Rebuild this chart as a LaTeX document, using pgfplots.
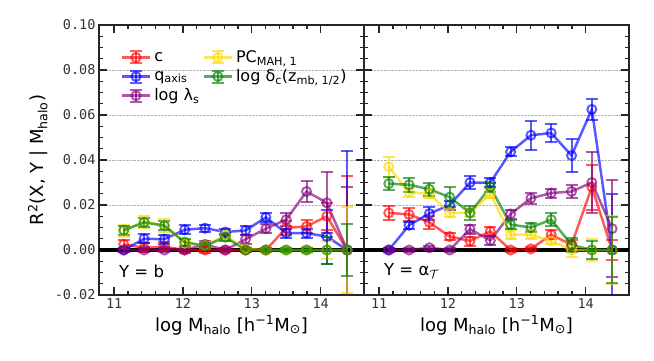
\documentclass[border=0pt]{standalone}
\usepackage{pgfplots}
\pgfplotsset{compat=1.18}
\usepackage{fontspec}
\setmainfont{DejaVu Sans}
\setmonofont{DejaVu Sans Mono}

\definecolor{cpurple}{RGB}{128,0,128}
\definecolor{cgold}{RGB}{255,215,0}
\definecolor{cgreen}{RGB}{0,128,0}

\pgfplotsset{
  panel/.style={
    scale only axis, width=265pt, height=270pt,
    xmin=10.78, xmax=14.63, ymin=-0.02, ymax=0.10,
    xtick={11,12,13,14}, minor x tick num=4,
    ytick={-0.02,0,0.02,0.04,0.06,0.08,0.10}, minor y tick num=3,
    xtick pos=both, ytick pos=both, tick align=inside,
    major tick length=8pt, minor tick length=4pt,
    every tick/.style={black!85, line width=1.3pt},
    axis line style={black!85, line width=1.3pt},
    ymajorgrids, major grid style={densely dotted, gray!60, line width=0.7pt},
    /pgf/number format/assume math mode=true,
    yticklabel style={/pgf/number format/.cd, fixed, fixed zerofill, precision=2},
    tick label style={font=\ttfamily\fontsize{13.5}{16}\selectfont, black!80},
    label style={font=\fontsize{18}{21}\selectfont},
    xlabel={log M\textsubscript{halo} [h\textsuperscript{−1}M\textsubscript{⊙}]},
    clip=true,
  },
  ser/.style={color=#1, opacity=0.65, line width=2.5pt, mark=o, mark size=4.5pt,
    mark options={solid, line width=2pt, opacity=0.65}, forget plot,
    error bars/y dir=both, error bars/y explicit,
    error bars/error bar style={line width=2pt, solid, opacity=0.65},
    error bars/error mark options={rotate=90, mark size=6pt, line width=2pt, color=#1, opacity=0.65}},
  zeroline/.style={black, line width=4pt, forget plot},
}

\begin{document}
\begin{tikzpicture}
\useasboundingbox (0pt,0pt) rectangle (654pt,360pt);

% left panel: Y = b
\begin{axis}[panel, at={(99pt,65pt)}, anchor=south west,
  ylabel={R\textsuperscript{2}(X, Y | M\textsubscript{halo})},
  legend columns=2, legend cell align=left,
  legend style={draw=none, fill=none, at={(0.07,0.92)}, anchor=north west,
    font=\fontsize{16}{19}\selectfont, column sep=1pt, row sep=1.5pt},
  legend image code/.code={
    \draw[#1] (0pt,0pt) -- (28pt,0pt);
    \draw[#1, line width=2pt] (14pt,-6pt) -- (14pt,6pt) (8pt,6pt) -- (20pt,6pt) (8pt,-6pt) -- (20pt,-6pt);
    \draw[#1, line width=2pt] (14pt,0pt) circle (4.5pt);
  },
]
\addplot[zeroline] coordinates {(10.78,0) (14.63,0)};
% c
\addplot[ser=red] coordinates {
 (11.14,0.0025) +- (0,0.002) (11.435,0.001) +- (0,0.002) (11.73,0.0015) +- (0,0.002)
 (12.025,0) +- (0,0.0015) (12.32,0) +- (0,0.0015) (12.615,0) +- (0,0.001)
 (12.91,0) +- (0,0.001) (13.205,0) +- (0,0.001) (13.5,0.0098) +- (0,0.003)
 (13.795,0.0105) +- (0,0.003) (14.09,0.015) +- (0,0.006) (14.385,0) +- (0,0.033)};
% q_axis
\addplot[ser=blue] coordinates {
 (11.14,0) +- (0,0.001) (11.435,0.0050) +- (0,0.002) (11.73,0.0048) +- (0,0.002)
 (12.025,0.009) +- (0,0.002) (12.32,0.0097) +- (0,0.0015) (12.615,0.008) +- (0,0.0015)
 (12.91,0.0087) +- (0,0.002) (13.205,0.0145) +- (0,0.002) (13.5,0.0075) +- (0,0.002)
 (13.795,0.0075) +- (0,0.002) (14.09,0.006) +- (0,0.012) (14.385,0) +- (0,0.044)};
% log lambda_s
\addplot[ser=cpurple] coordinates {
 (11.14,0) +- (0,0.001) (11.435,0) +- (0,0.001) (11.73,0) +- (0,0.001)
 (12.025,0) +- (0,0.001) (12.32,0.0025) +- (0,0.0015) (12.615,0) +- (0,0.001)
 (12.91,0.0048) +- (0,0.002) (13.205,0.0095) +- (0,0.002) (13.5,0.0135) +- (0,0.003)
 (13.795,0.026) +- (0,0.0045) (14.09,0.021) +- (0,0.0135) (14.385,0) +- (0,0.028)};
% PC_MAH,1
\addplot[ser=cgold] coordinates {
 (11.14,0.0085) +- (0,0.0025) (11.435,0.0125) +- (0,0.0025) (11.73,0.011) +- (0,0.003)
 (12.025,0.003) +- (0,0.0015) (12.32,0.002) +- (0,0.0015) (12.615,0.0065) +- (0,0.002)
 (12.91,0.0005) +- (0,0.001) (13.205,0) +- (0,0.001) (13.5,0) +- (0,0.001)
 (13.795,0) +- (0,0.0015) (14.09,0) +- (0,0.004) (14.385,0) +- (0,0.019)};
% log delta_c
\addplot[ser=cgreen] coordinates {
 (11.14,0.0088) +- (0,0.002) (11.435,0.0123) +- (0,0.002) (11.73,0.0108) +- (0,0.002)
 (12.025,0.0035) +- (0,0.0015) (12.32,0.0018) +- (0,0.0015) (12.615,0.0057) +- (0,0.0015)
 (12.91,0) +- (0,0.001) (13.205,0) +- (0,0.001) (13.5,0) +- (0,0.001)
 (13.795,0) +- (0,0.001) (14.09,0) +- (0,0.006) (14.385,0) +- (0,0.0117)};

\addlegendimage{red, opacity=0.65, line width=2.5pt}
\addlegendentry{c}
\addlegendimage{cgold, opacity=0.65, line width=2.5pt}
\addlegendentry{PC\textsubscript{MAH, 1}}
\addlegendimage{blue, opacity=0.65, line width=2.5pt}
\addlegendentry{q\textsubscript{axis}}
\addlegendimage{cgreen, opacity=0.65, line width=2.5pt}
\addlegendentry{log δ\textsubscript{c}(z\textsubscript{mb, 1/2})}
\addlegendimage{cpurple, opacity=0.65, line width=2.5pt}
\addlegendentry{log λ\textsubscript{s}}

\node[anchor=west, inner sep=0pt, font=\fontsize{16.5}{19}\selectfont] at (axis cs:11.07,-0.0094) {Y = b};
\end{axis}

% right panel: Y = alpha_T
\begin{axis}[panel, at={(364pt,65pt)}, anchor=south west, yticklabels={}]
\addplot[zeroline] coordinates {(10.78,0) (14.63,0)};
\addplot[ser=red] coordinates {
 (11.14,0.0165) +- (0,0.003) (11.435,0.0158) +- (0,0.003) (11.73,0.0123) +- (0,0.003)
 (12.025,0.006) +- (0,0.0015) (12.32,0.004) +- (0,0.002) (12.615,0.0083) +- (0,0.002)
 (12.91,0) +- (0,0.001) (13.205,0.0005) +- (0,0.001) (13.5,0.0068) +- (0,0.002)
 (13.795,0.0023) +- (0,0.002) (14.09,0.028) +- (0,0.01) (14.385,0) +- (0,0.0045)};
\addplot[ser=blue] coordinates {
 (11.14,0) +- (0,0.001) (11.435,0.011) +- (0,0.0015) (11.73,0.0162) +- (0,0.003)
 (12.025,0.020) +- (0,0.002) (12.32,0.030) +- (0,0.003) (12.615,0.030) +- (0,0.002)
 (12.91,0.0436) +- (0,0.002) (13.205,0.051) +- (0,0.0065) (13.5,0.052) +- (0,0.004)
 (13.795,0.042) +- (0,0.0075) (14.09,0.0625) +- (0,0.0045) (14.385,0) +- (0,0.025)};
\addplot[ser=cpurple] coordinates {
 (11.14,0) +- (0,0.001) (11.435,0) +- (0,0.001) (11.73,0.001) +- (0,0.001)
 (12.025,0) +- (0,0.001) (12.32,0.0093) +- (0,0.002) (12.615,0.0042) +- (0,0.002)
 (12.91,0.016) +- (0,0.002) (13.205,0.023) +- (0,0.0025) (13.5,0.0253) +- (0,0.002)
 (13.795,0.026) +- (0,0.003) (14.09,0.030) +- (0,0.0135) (14.385,0.0095) +- (0,0.0215)};
\addplot[ser=cgold] coordinates {
 (11.14,0.037) +- (0,0.0045) (11.435,0.0256) +- (0,0.002) (11.73,0.025) +- (0,0.002)
 (12.025,0.0165) +- (0,0.002) (12.32,0.0165) +- (0,0.002) (12.615,0.025) +- (0,0.002)
 (12.91,0.0068) +- (0,0.002) (13.205,0.0068) +- (0,0.002) (13.5,0.004) +- (0,0.0015)
 (13.795,0) +- (0,0.003) (14.09,0) +- (0,0.005) (14.385,0) +- (0,0.015)};
\addplot[ser=cgreen] coordinates {
 (11.14,0.0295) +- (0,0.003) (11.435,0.029) +- (0,0.003) (11.73,0.027) +- (0,0.003)
 (12.025,0.0235) +- (0,0.0045) (12.32,0.0165) +- (0,0.003) (12.615,0.028) +- (0,0.002)
 (12.91,0.0113) +- (0,0.002) (13.205,0.010) +- (0,0.002) (13.5,0.0135) +- (0,0.003)
 (13.795,0.0023) +- (0,0.003) (14.09,0) +- (0,0.004) (14.385,0) +- (0,0.0145)};

\node[anchor=west, inner sep=0pt, font=\fontsize{16.5}{19}\selectfont] at (axis cs:11.07,-0.0094) {Y = α\textsubscript{$\mathcal{T}$}};
\end{axis}
\end{tikzpicture}
\end{document}
